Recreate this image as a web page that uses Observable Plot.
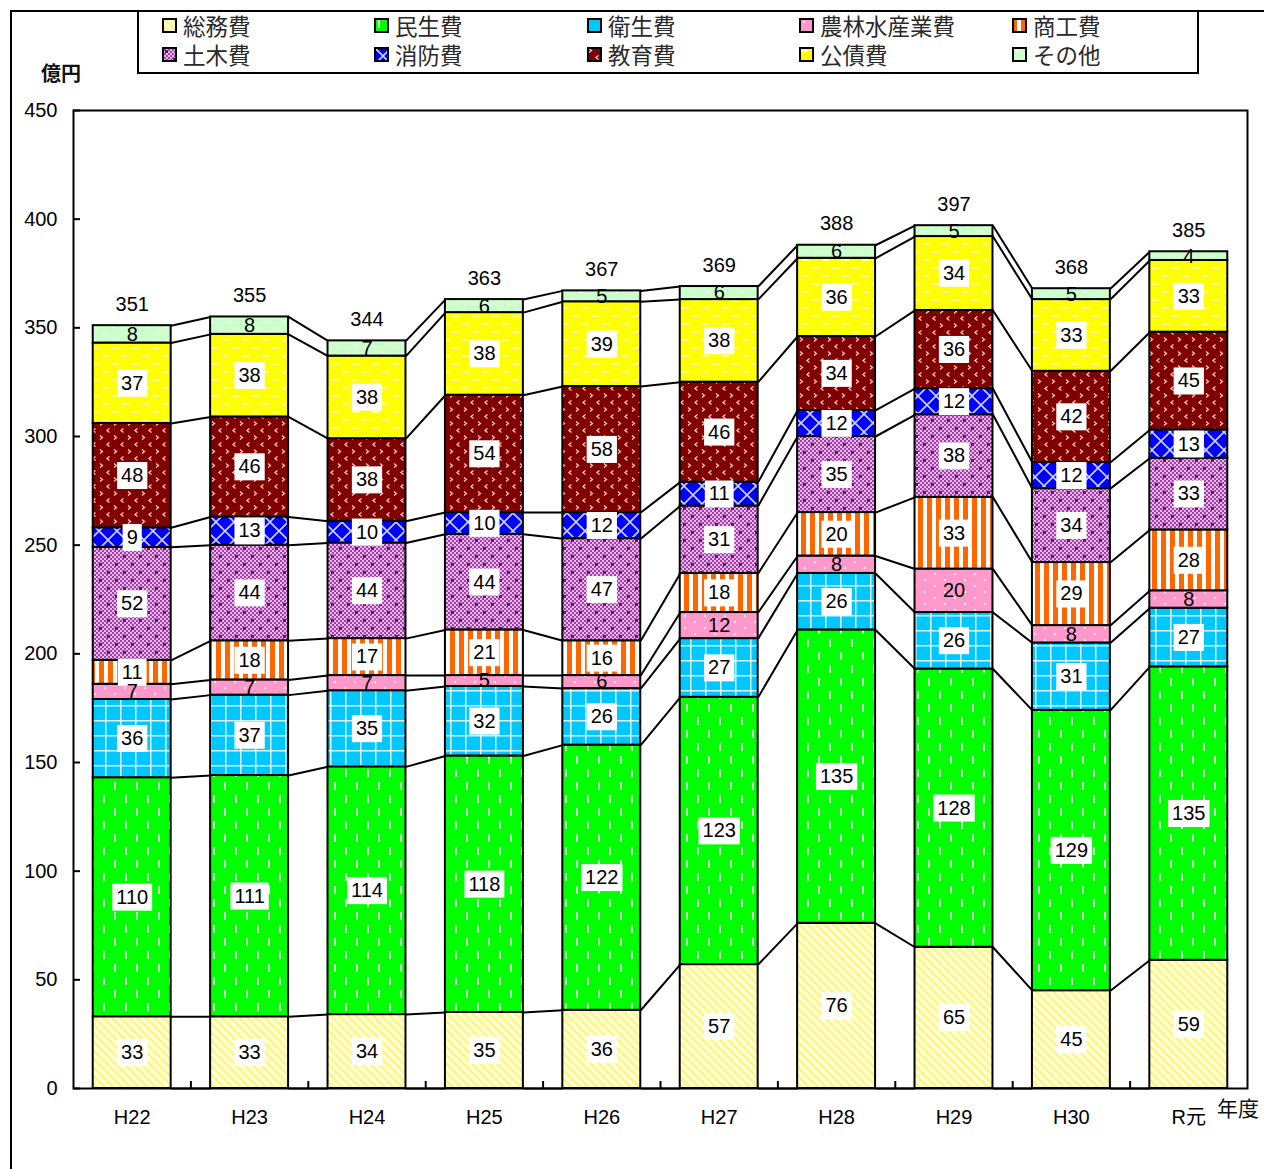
<!DOCTYPE html>
<html>
<head>
<meta charset="utf-8">
<script src="https://cdn.jsdelivr.net/npm/d3@7"></script>
<script src="https://cdn.jsdelivr.net/npm/@observablehq/plot@0.6"></script>
<style>
  html, body { margin: 0; padding: 0; background: #fff; }
  #wrap { position: relative; width: 1264px; height: 1169px; overflow: hidden; font-family: "Liberation Sans", "Noto Sans CJK JP", sans-serif; }
  #outer { position: absolute; left: 10px; top: 10px; width: 1300px; height: 1300px; border: 2px solid #000; box-sizing: border-box; }
  #legend { position: absolute; left: 137px; top: 10px; width: 1062px; height: 64px; border: 2px solid #000; box-sizing: border-box; background: #fff; }
  .li { position: absolute; display: flex; align-items: center; font-family: "Noto Sans CJK JP", sans-serif; font-size: 22.5px; color: #2a2a2a; line-height: 1; white-space: nowrap; }
  .li svg { margin-right: 6px; }
  #unit { position: absolute; left: 41px; top: 58px; font-family: "Noto Sans CJK JP", sans-serif; font-size: 20px; font-weight: bold; color: #111; }
  #nendo { position: absolute; left: 1217px; top: 1092px; font-family: "Noto Sans CJK JP", sans-serif; font-size: 21px; color: #111; }
  #chart { position: absolute; left: 0; top: 0; }
</style>
</head>
<body>
<svg width="0" height="0" style="position:absolute">
  <defs>
    <pattern id="pat0" patternUnits="userSpaceOnUse" width="6" height="6" patternTransform="rotate(-45)">
      <rect width="6" height="6" fill="#ffffe0"/>
      <rect width="3" height="6" fill="#fff68a"/>
    </pattern>
    <pattern id="pat1" patternUnits="userSpaceOnUse" width="22" height="26">
      <rect width="22" height="26" fill="#00ff00"/>
      <rect x="4" y="2" width="2" height="8" fill="#ffffff" opacity="0.8"/>
      <rect x="15" y="15" width="2" height="8" fill="#ffffff" opacity="0.8"/>
    </pattern>
    <pattern id="pat2" patternUnits="userSpaceOnUse" width="15" height="15">
      <rect width="15" height="15" fill="#00c8ff"/>
      <rect x="0" y="0" width="15" height="1.5" fill="#ffffff" opacity="0.85"/>
      <rect x="0" y="0" width="1.5" height="15" fill="#ffffff" opacity="0.85"/>
    </pattern>
    <pattern id="pat3" patternUnits="userSpaceOnUse" width="20" height="12">
      <rect width="20" height="12" fill="#ff99cc"/>
      <rect x="4" y="3" width="2" height="2" fill="#ffffff" opacity="0.8"/>
      <rect x="14" y="9" width="2" height="2" fill="#ffffff" opacity="0.8"/>
    </pattern>
    <pattern id="pat4" patternUnits="userSpaceOnUse" width="9" height="9">
      <rect width="9" height="9" fill="#ffffff"/>
      <rect x="0" width="5" height="9" fill="#ff6600"/>
    </pattern>
    <pattern id="pat5" patternUnits="userSpaceOnUse" width="16" height="16">
      <rect width="16" height="16" fill="#e6b8e6"/>
      <path d="M0 0h2v2h-2zM4 0h2v2h-2zM8 0h2v2h-2zM12 0h2v2h-2zM2 2h2v2h-2zM6 2h2v2h-2zM10 2h2v2h-2zM14 2h2v2h-2zM0 4h2v2h-2zM4 4h2v2h-2zM8 4h2v2h-2zM12 4h2v2h-2zM2 6h2v2h-2zM6 6h2v2h-2zM10 6h2v2h-2zM14 6h2v2h-2zM0 8h2v2h-2zM4 8h2v2h-2zM8 8h2v2h-2zM12 8h2v2h-2zM2 10h2v2h-2zM6 10h2v2h-2zM10 10h2v2h-2zM14 10h2v2h-2zM0 12h2v2h-2zM4 12h2v2h-2zM8 12h2v2h-2zM12 12h2v2h-2zM2 14h2v2h-2zM6 14h2v2h-2zM10 14h2v2h-2zM14 14h2v2h-2z" fill="#a040a8"/>
      <rect x="3" y="3" width="3" height="3" fill="#800080"/>
      <rect x="11" y="11" width="3" height="3" fill="#800080"/>
    </pattern>
    <pattern id="pat6" patternUnits="userSpaceOnUse" width="18" height="18">
      <rect width="18" height="18" fill="#0000ff"/>
      <path d="M0 0L18 18M18 0L0 18" stroke="#d0d0ff" stroke-width="1.6"/>
    </pattern>
    <pattern id="pat7" patternUnits="userSpaceOnUse" width="14" height="14">
      <rect width="14" height="14" fill="#800000"/>
      <path d="M2 1.5L4.5 3.5L2 5.5" stroke="#ffcccc" stroke-width="1.3" fill="none"/>
      <path d="M11.5 8.5L9 10.5L11.5 12.5" stroke="#ffcccc" stroke-width="1.3" fill="none"/>
    </pattern>
    <pattern id="pat8" patternUnits="userSpaceOnUse" width="20" height="16">
      <rect width="20" height="16" fill="#ffff00"/>
      <rect x="2" y="3" width="7" height="1.6" fill="#ffffff" opacity="0.9"/>
      <rect x="12" y="11" width="7" height="1.6" fill="#ffffff" opacity="0.9"/>
    </pattern>
    <pattern id="pat9" patternUnits="userSpaceOnUse" width="18" height="12">
      <rect width="18" height="12" fill="#ccffcc"/>
      <rect x="4" y="3" width="2" height="2" fill="#ffffff"/>
      <rect x="13" y="9" width="2" height="2" fill="#ffffff"/>
    </pattern>
  </defs>
</svg>
<div id="wrap">
  <div id="outer"></div>
  <div id="chart"></div>
  <div id="legend"></div>
  <div id="unit">億円</div>
  <div id="nendo">年度</div>
</div>
<script>
// ---- data ----
const years = ["H22", "H23", "H24", "H25", "H26", "H27", "H28", "H29", "H30", "R元"];
const categories = ["総務費", "民生費", "衛生費", "農林水産業費", "商工費", "土木費", "消防費", "教育費", "公債費", "その他"];
const soumu  = [33, 33, 34, 35, 36, 57, 76, 65, 45, 59];
const minsei = [110, 111, 114, 118, 122, 123, 135, 128, 129, 135];
const eisei  = [36, 37, 35, 32, 26, 27, 26, 26, 31, 27];
const norin  = [7, 7, 7, 5, 6, 12, 8, 20, 8, 8];
const shoko  = [11, 18, 17, 21, 16, 18, 20, 33, 29, 28];
const doboku = [52, 44, 44, 44, 47, 31, 35, 38, 34, 33];
const shobo  = [9, 13, 10, 10, 12, 11, 12, 12, 12, 13];
const kyoiku = [48, 46, 38, 54, 58, 46, 34, 36, 42, 45];
const kosai  = [37, 38, 38, 38, 39, 38, 36, 34, 33, 33];
const sonota = [8, 8, 7, 6, 5, 6, 6, 5, 5, 4];
const totals = [351, 355, 344, 363, 367, 369, 388, 397, 368, 385];
const yTicks = [0, 50, 100, 150, 200, 250, 300, 350, 400, 450];

const series = [soumu, minsei, eisei, norin, shoko, doboku, shobo, kyoiku, kosai, sonota];
const unboxed = new Set(["農林水産業費", "その他"]);

// ---- build stacked segments ----
const segs = [];
years.forEach((yr, i) => {
  let acc = 0;
  series.forEach((s, k) => {
    segs.push({i, k, cat: categories[k], v: s[i], y1: acc, y2: acc + s[i]});
    acc += s[i];
  });
});
const hw = 0.332; // half bar width in band units
const links = [];
for (let i = 0; i < years.length - 1; i++) {
  series.forEach((s, k) => {
    const a = segs.find(d => d.i === i && d.k === k);
    const b = segs.find(d => d.i === i + 1 && d.k === k);
    links.push({x1: i + hw, x2: i + 1 - hw, y1: a.y2, y2: b.y2});
  });
  links.push({x1: i + hw, x2: i + 1 - hw, y1: 0, y2: 0});
}
const totalData = years.map((yr, i) => ({i, t: totals[i], top: segs.filter(d => d.i === i).reduce((m, d) => Math.max(m, d.y2), 0)}));

const W = 1264, H = 1169, mL = 73, mR = 17, mT = 110, mB = 81;
const innerW = W - mL - mR, innerH = H - mT - mB;
const FS = 20;

const chart = Plot.plot({
  width: W, height: H,
  marginLeft: mL, marginRight: mR, marginTop: mT, marginBottom: mB,
  style: {fontFamily: '"Liberation Sans", "Noto Sans CJK JP", sans-serif', fontSize: FS + "px", color: "#000", background: "transparent"},
  x: {type: "linear", domain: [-0.5, years.length - 0.5]},
  y: {domain: [0, 450]},
  color: {type: "identity"},
  marks: [
    Plot.rect(segs, {x1: d => d.i - hw, x2: d => d.i + hw, y1: "y1", y2: "y2", fill: d => `url(#pat${d.k})`, stroke: "#000", strokeWidth: 2}),
    Plot.link(links, {x1: "x1", x2: "x2", y1: "y1", y2: "y2", stroke: "#000", strokeWidth: 2}),
    Plot.text(segs.filter(d => !unboxed.has(d.cat)), {x: "i", y: d => (d.y1 + d.y2) / 2, text: d => String(d.v), fill: "#000", fontSize: FS, className: "boxed"}),
    Plot.text(segs.filter(d => unboxed.has(d.cat)), {x: "i", y: d => (d.y1 + d.y2) / 2, text: d => String(d.v), fill: "#000", fontSize: FS}),
    Plot.text(totalData, {x: "i", y: "top", text: d => String(d.t), lineAnchor: "bottom", dy: -15, fontSize: FS, fill: "#000"}),
    Plot.axisY({ticks: yTicks, tickSize: 0, tickPadding: 16, label: null, fontSize: FS}),
    Plot.tickY(yTicks, {y: d => d, insetRight: innerW - 7, stroke: "#000", strokeWidth: 2}),
    Plot.axisX({ticks: d3.range(years.length), tickFormat: i => years[i], tickSize: 0, tickPadding: 21, label: null, fontSize: FS}),
    Plot.tickX(d3.range(years.length - 1).map(i => i + 0.5), {x: d => d, insetTop: innerH - 7, stroke: "#000", strokeWidth: 2}),
    Plot.frame({stroke: "#000", strokeWidth: 2})
  ]
});
document.getElementById("chart").appendChild(chart);

// white boxes behind labels
chart.querySelectorAll("g.boxed text").forEach(t => {
  const b = t.getBBox();
  const r = document.createElementNS("http://www.w3.org/2000/svg", "rect");
  r.setAttribute("x", b.x - 4);
  r.setAttribute("y", b.y - 2);
  r.setAttribute("width", b.width + 8);
  r.setAttribute("height", b.height + 5);
  r.setAttribute("fill", "#fff");
  const tr = t.getAttribute("transform");
  if (tr) r.setAttribute("transform", tr);
  t.parentNode.insertBefore(r, t);
});

// legend
const legend = document.getElementById("legend");
const colX = [23, 235, 448, 660, 873];
categories.forEach((c, k) => {
  const row = Math.floor(k / 5), col = k % 5;
  const el = document.createElement("div");
  el.className = "li";
  el.style.left = colX[col] + "px";
  el.style.top = (row === 0 ? 1 : 30) + "px";
  el.style.height = "24px";
  el.innerHTML = `<svg width="15" height="15"><rect x="1" y="1" width="13" height="13" fill="url(#pat${k})" stroke="#000" stroke-width="2"/></svg><span>${c}</span>`;
  legend.appendChild(el);
});
</script>
</body>
</html>
